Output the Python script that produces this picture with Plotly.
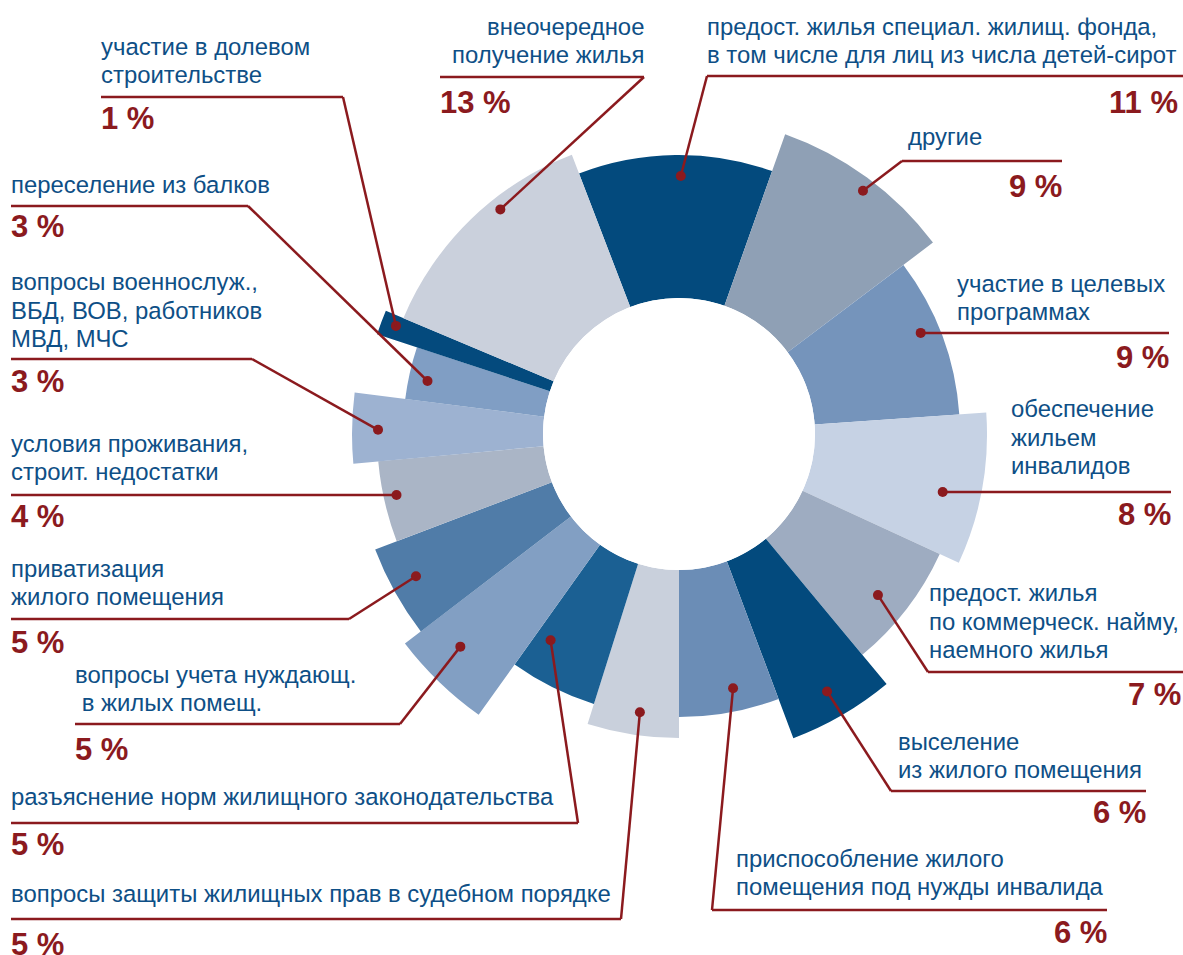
import math
import plotly.graph_objects as go

# ---------------- data ----------------
label_lines = [
    ["предост. жилья специал. жилищ. фонда,", "в том числе для лиц из числа детей-сирот"],
    ["другие"],
    ["участие в целевых", "программах"],
    ["обеспечение", "жильем", "инвалидов"],
    ["предост. жилья", "по коммерческ. найму,", "наемного жилья"],
    ["выселение", "из жилого помещения"],
    ["приспособление жилого", "помещения под нужды инвалида"],
    ["вопросы защиты жилищных прав в судебном порядке"],
    ["разъяснение норм жилищного законодательства"],
    ["вопросы учета нуждающ.", "\u00a0в жилых помещ."],
    ["приватизация", "жилого помещения"],
    ["условия проживания,", "строит. недостатки"],
    ["вопросы военнослуж.,", "ВБД, ВОВ, работников", "МВД, МЧС"],
    ["переселение из балков"],
    ["участие в долевом", "строительстве"],
    ["внеочередное", "получение жилья"],
]
categories = [" ".join(l).replace("\u00a0", "") for l in label_lines]
percent_labels = [11, 9, 9, 8, 7, 6, 6, 5, 5, 5, 5, 4, 3, 3, 1, 13]
# angular size of each sector (degrees)
sector_degrees = [40.5, 33.5, 33.0, 28.7, 25.6, 19.1, 20.6, 17.5, 18.0, 17.1, 16.6, 15.6, 12.5, 11.0, 4.5, 46.2]
# radial length of each sector beyond the hole
bar_lengths = [143, 182, 145, 172, 151, 189, 147, 168, 147, 209, 189, 166, 191, 140, 182, 163]
bar_colors = ["#034a7d", "#8fa0b5", "#7594bb", "#c6d2e4", "#9eacc1", "#034a7d", "#6b8db6", "#c9d0dc",
              "#1b6093", "#829fc3", "#507ca8", "#aab5c6", "#9db2d1", "#809ec4", "#044a7d", "#cad0dc"]
# marker dot anchors (polar)
dot_theta = [0.4, 37.1, 67.3, 102.4, 129, 150.1, 168, 188, 211.9, 225.8, 241.6, 257.8, 270.8, 281.9, 290.9, 321.5]
dot_length = [122, 169, 126, 134, 120, 161, 124, 145, 107, 169, 163, 153, 165, 121, 167, 151]
START_ANGLE = -21.0

# ---------------- geometry ----------------
W, H = 1183, 955
CX, CY = 679, 434
HOLE = 136
RMAX = 350

thetas = []
acc = START_ANGLE
for d in sector_degrees:
    thetas.append(acc + d / 2)
    acc += d

def to_paper(x, y):
    return x / W, 1 - y / H

def polar_px(theta, length):
    R = HOLE + length
    a = math.radians(theta)
    return CX + R * math.sin(a), CY - R * math.cos(a)

# label layout (pixels)
label_layout = [
    dict(tx=707, ta="left", base=63, hy=76, far=1183, elbow=707, px=1178, pa="right", pb=113),
    dict(tx=908, ta="left", base=145, hy=161, far=1062, elbow=902, px=1062, pa="right", pb=197),
    dict(tx=957, ta="left", base=320, hy=None, far=1169, elbow=None, px=1169, pa="right", pb=368),
    dict(tx=1011, ta="left", base=474, hy=None, far=1171, elbow=None, px=1171, pa="right", pb=525),
    dict(tx=929, ta="left", base=658, hy=672, far=1183, elbow=928, px=1181, pa="right", pb=705),
    dict(tx=898, ta="left", base=778, hy=791, far=1146, elbow=891, px=1146, pa="right", pb=823),
    dict(tx=736, ta="left", base=895, hy=910, far=1107, elbow=712, px=1107, pa="right", pb=943),
    dict(tx=11, ta="left", base=902, hy=919, far=11, elbow=621, px=11, pa="left", pb=955),
    dict(tx=11, ta="left", base=805, hy=823, far=11, elbow=578, px=11, pa="left", pb=855),
    dict(tx=75, ta="left", base=711, hy=724, far=75, elbow=400, px=75, pa="left", pb=760),
    dict(tx=11, ta="left", base=605, hy=619, far=11, elbow=349, px=11, pa="left", pb=653),
    dict(tx=11, ta="left", base=480, hy=None, far=11, elbow=None, px=11, pa="left", pb=527),
    dict(tx=11, ta="left", base=347, hy=359, far=11, elbow=252, px=11, pa="left", pb=392),
    dict(tx=11, ta="left", base=193, hy=206, far=11, elbow=248, px=11, pa="left", pb=237),
    dict(tx=101, ta="left", base=83, hy=97, far=101, elbow=343, px=101, pa="left", pb=129),
    dict(tx=644, ta="right", base=63, hy=77, far=440, elbow=644, px=440, pa="left", pb=113),
]

TEXT_COLOR = "#0e4f86"
RED = "#8b1a1e"
FONT = "Liberation Sans, Arial, sans-serif"
FS = 23.9
PFS = 31
LINE_STEP = 28.5

fig = go.Figure()
fig.add_trace(go.Barpolar(
    r=bar_lengths, theta=thetas, width=sector_degrees,
    marker=dict(color=bar_colors, line=dict(width=0)),
    text=categories, hoverinfo="text", showlegend=False,
))
fig.add_trace(go.Scatterpolar(
    r=dot_length, theta=dot_theta, mode="markers",
    marker=dict(size=10, color=RED), hoverinfo="skip", showlegend=False,
))

shapes = []
annotations = []
for i, spec in enumerate(label_layout):
    dx, dy = polar_px(dot_theta[i], dot_length[i])
    if spec["elbow"] is None:
        hy = dy
        x0p, y0p = to_paper(spec["far"], hy)
        x1p, y1p = to_paper(dx, hy)
        shapes.append(dict(type="line", xref="paper", yref="paper", x0=x0p, y0=y0p, x1=x1p, y1=y1p,
                           line=dict(color=RED, width=2.5)))
    else:
        hy = spec["hy"]
        x0p, y0p = to_paper(spec["far"], hy)
        x1p, y1p = to_paper(spec["elbow"], hy)
        shapes.append(dict(type="line", xref="paper", yref="paper", x0=x0p, y0=y0p, x1=x1p, y1=y1p,
                           line=dict(color=RED, width=2.5)))
        x2p, y2p = to_paper(dx, dy)
        shapes.append(dict(type="line", xref="paper", yref="paper", x0=x1p, y0=y1p, x1=x2p, y1=y2p,
                           line=dict(color=RED, width=2.5)))
    lines = label_lines[i]
    n = len(lines)
    for k, ln in enumerate(lines):
        b = spec["base"] - (n - 1 - k) * LINE_STEP
        xp, yp = to_paper(spec["tx"], b - 0.35 * FS)
        annotations.append(dict(text=ln, x=xp, y=yp, xref="paper", yref="paper", showarrow=False,
                                xanchor=spec["ta"], yanchor="middle", borderpad=0, borderwidth=0,
                                font=dict(family=FONT, size=FS, color=TEXT_COLOR)))
    xp, yp = to_paper(spec["px"], spec["pb"] - 0.35 * PFS)
    annotations.append(dict(text=f"<b>{percent_labels[i]} %</b>", x=xp, y=yp, xref="paper", yref="paper",
                            showarrow=False, xanchor=spec["pa"], yanchor="middle", borderpad=0, borderwidth=0,
                            font=dict(family=FONT, size=PFS, color=RED)))

fig.update_layout(
    width=W, height=H,
    margin=dict(l=0, r=0, t=0, b=0),
    paper_bgcolor="white", plot_bgcolor="white",
    showlegend=False,
    polar=dict(
        domain=dict(x=[(CX - RMAX) / W, (CX + RMAX) / W],
                    y=[(H - CY - RMAX) / H, (H - CY + RMAX) / H]),
        hole=HOLE / RMAX,
        bgcolor="white",
        radialaxis=dict(visible=False, range=[0, RMAX - HOLE], showgrid=False),
        angularaxis=dict(visible=False, rotation=90, direction="clockwise", showgrid=False),
    ),
    shapes=shapes,
    annotations=annotations,
)

fig.write_html(
    "out.html",
    config={"displayModeBar": False},
    post_script="document.body.style.margin='0';document.body.style.overflow='hidden';",
)
